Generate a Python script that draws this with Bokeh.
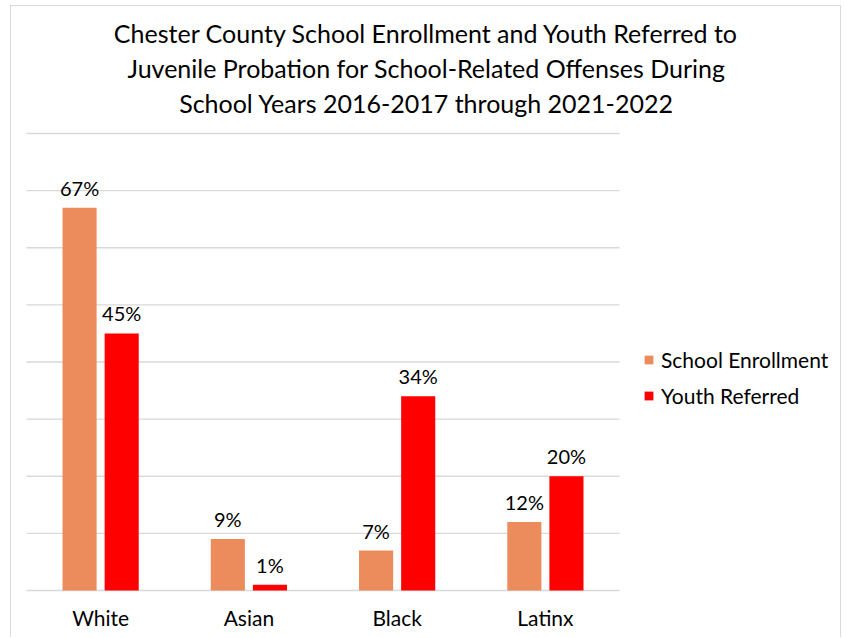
import numpy as np
from bokeh.plotting import figure
from bokeh.models import ColumnDataSource, Range1d, Legend, LegendItem, Label
from bokeh.core.properties import value
from bokeh.embed import file_html
from bokeh.resources import INLINE

categories = ["White", "Asian", "Black", "Latinx"]
enrollment = [0.67, 0.09, 0.07, 0.12]
referred = [0.45, 0.01, 0.34, 0.20]
series_names = ["School Enrollment", "Youth Referred"]
title_lines = [
    "Chester County School Enrollment and Youth Referred to",
    "Juvenile Probation for School-Related Offenses During",
    "School Years 2016-2017 through 2021-2022",
]
grid_values = [0.0, 0.1, 0.2, 0.3, 0.4, 0.5, 0.6, 0.7, 0.8]

FONT = "Lato"
C_ENR = "#EC8C5C"
C_REF = "#FF0000"
W = 0.23
OFF = 0.142

centers = np.arange(len(categories)) + 0.5
src = ColumnDataSource(dict(
    cat=categories,
    xc=centers,
    xe=centers - OFF,
    xr=centers + OFF,
    y0=[0.0] * len(categories),
    enr=enrollment,
    ref=referred,
    enr_lbl=[f"{round(v*100)}%" for v in enrollment],
    ref_lbl=[f"{round(v*100)}%" for v in referred],
))
gsrc = ColumnDataSource(dict(y=grid_values, x0=[0.0] * len(grid_values),
                             x1=[float(len(categories))] * len(grid_values)))

# frame covers the whole canvas; data units: 148.25 px per category, 571.25 px per 1.0
p = figure(x_range=Range1d(-0.1012, 5.504), y_range=Range1d(-0.0840, 1.0223),
           width=831, height=632, output_backend="svg", toolbar_location=None,
           min_border=0)
p.styles = {"margin-left": "10px", "margin-top": "5px",
            "border-top": "1px solid #d9d9d9", "border-left": "1px solid #d9d9d9",
            "border-right": "1px solid #d9d9d9"}
p.outline_line_color = None
p.background_fill_color = "white"
p.border_fill_color = "white"
p.xaxis.visible = False
p.yaxis.visible = False
p.xgrid.visible = False
p.ygrid.visible = False

p.segment(x0="x0", x1="x1", y0="y", y1="y", source=gsrc,
          line_color="#D9D9D9", line_width=1.3)

r1 = p.vbar(x="xe", top="enr", width=W, source=src, fill_color=C_ENR, line_color=None)
r2 = p.vbar(x="xr", top="ref", width=W, source=src, fill_color=C_REF, line_color=None)

p.text(x="xe", y="enr", text="enr_lbl", source=src,
       text_font=value(FONT), text_font_size="20px", text_color="black",
       text_align="center", text_baseline="alphabetic", y_offset=-20)
p.text(x="xr", y="ref", text="ref_lbl", source=src,
       text_font=value(FONT), text_font_size="20px", text_color="black",
       text_align="center", text_baseline="alphabetic", y_offset=-20)

# category labels below the baseline
p.text(x="xc", y="y0", text="cat", source=src,
       text_font=value(FONT), text_font_size="21px", text_color="black",
       text_align="center", text_baseline="alphabetic", y_offset=27)

for line, ybase in zip(title_lines, [606, 571, 536]):
    p.add_layout(Label(x=415, y=ybase, x_units="screen", y_units="screen", text=line,
                       text_font=FONT, text_font_size="25px", text_color="black",
                       text_align="center", text_baseline="alphabetic"))

legend = Legend(items=[LegendItem(label=series_names[0], renderers=[r1]),
                       LegendItem(label=series_names[1], renderers=[r2])],
                location=(632, 230), orientation="vertical",
                glyph_width=11, glyph_height=11, label_standoff=7,
                label_height=20, spacing=11, padding=0, margin=0,
                label_text_font=FONT, label_text_font_size="21px",
                label_text_color="black",
                border_line_color=None, background_fill_alpha=0)
p.add_layout(legend, "center")

open("out.html", "w").write(file_html(p, INLINE))
